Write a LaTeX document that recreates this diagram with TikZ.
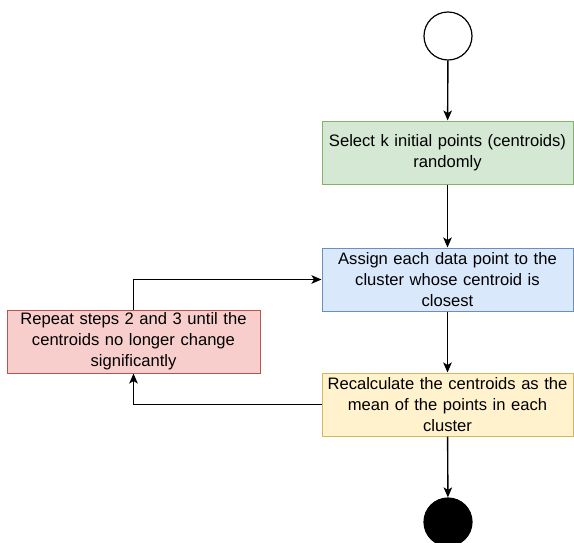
\documentclass[tikz,border=0pt]{standalone}
\usepackage{fontspec}
\setmainfont{Liberation Sans}
\usetikzlibrary{arrows.meta}
\definecolor{greenfill}{HTML}{D5E8D4}\definecolor{greenline}{HTML}{82B366}
\definecolor{bluefill}{HTML}{DAE8FC}\definecolor{blueline}{HTML}{6C8EBF}
\definecolor{redfill}{HTML}{F8CECC}\definecolor{redline}{HTML}{B85450}
\definecolor{yellowfill}{HTML}{FFF2CC}\definecolor{yellowline}{HTML}{D6B656}
\begin{document}
\begin{tikzpicture}[x=1pt,y=-1pt,
  stepbox/.style={draw, line width=1pt, minimum width=251pt, minimum height=63pt,
    inner sep=0pt, align=center, text width=249pt,
    font=\fontsize{16.6}{20.8}\selectfont},
  flow/.style={line width=1.4pt, -{Stealth[length=10pt,width=8.5pt,inset=2.5pt]}},
  terminal/.style={circle, draw, line width=1.2pt, minimum size=48pt, inner sep=0pt},
]
\useasboundingbox (0,0) rectangle (574,542);

% start and end markers
\node[terminal, fill=white] (start) at (448,36) {};
\node[terminal, fill=black] (stop) at (448,522) {};

% process steps
\node[stepbox, fill=greenfill, draw=greenline] (select) at (447.5,152.5)
  {Select k initial points (centroids)\\randomly};
\node[stepbox, fill=bluefill, draw=blueline] (assign) at (447.5,279.5)
  {Assign each data point to the\\cluster whose centroid is\\closest};
\node[stepbox, fill=yellowfill, draw=yellowline] (recalc) at (447.5,404.5)
  {Recalculate the centroids as the\\mean of the points in each\\cluster};
\node[stepbox, fill=redfill, draw=redline, minimum width=253pt] (repeat) at (133.5,341.5)
  {Repeat steps 2 and 3 until the\\centroids no longer change\\significantly};

% main flow
\draw[flow] (start) -- (select);
\draw[flow] (select) -- (assign);
\draw[flow] (assign) -- (recalc);
\draw[flow] (recalc) -- (stop);

% iteration loop
\draw[flow] (recalc.west) -| (repeat.south);
\draw[flow] (repeat.north) |- (assign.west);
\end{tikzpicture}
\end{document}
